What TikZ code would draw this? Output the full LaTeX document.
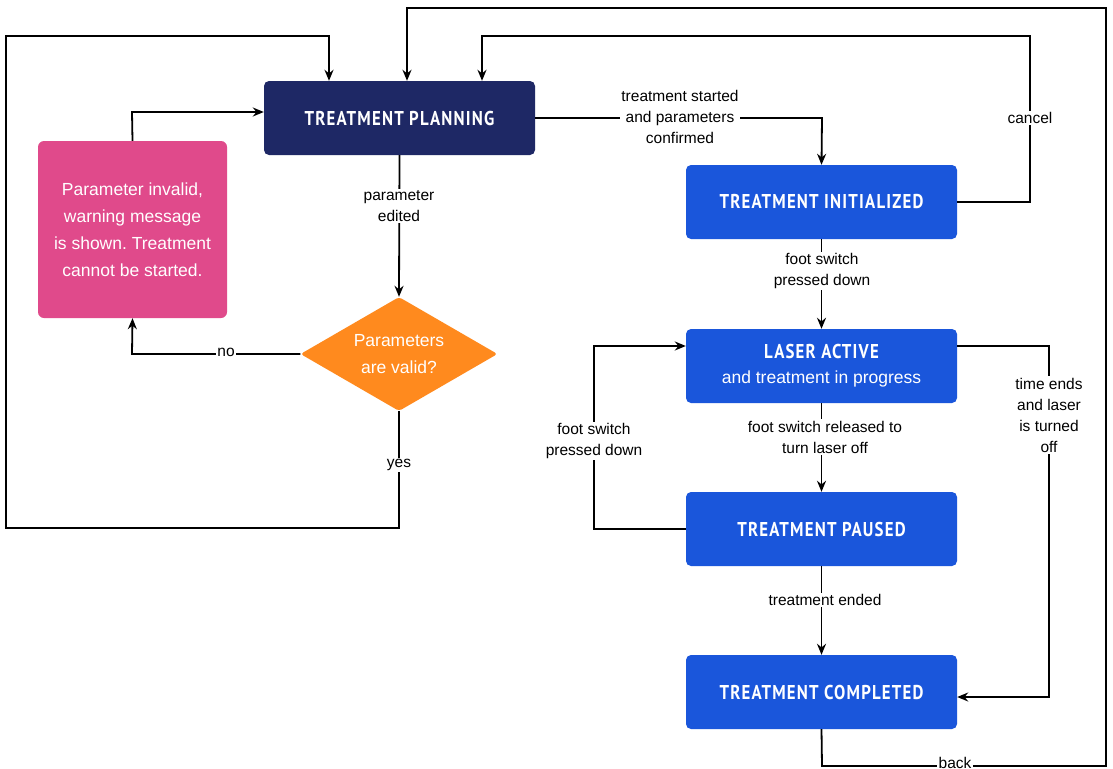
\documentclass[tikz,border=0pt]{standalone}
\usepackage{fontspec}
\setmainfont{Liberation Sans}
\newfontfamily\titlefont{PT Sans}[FakeStretch=0.84,LetterSpace=6]
\usetikzlibrary{shapes.geometric,arrows.meta}
\definecolor{navy}{HTML}{1E2865}
\definecolor{pinkbox}{HTML}{E04A8B}
\definecolor{orangebox}{HTML}{FF8A1E}
\definecolor{bluebox}{HTML}{1A56DB}
\frenchspacing
\tikzset{
  statebox/.style={draw=none, fill=bluebox, rounded corners=5pt, minimum width=271pt, minimum height=74pt, text=white, align=center, inner sep=0pt, font=\titlefont\bfseries\fontsize{20}{22}\selectfont},
  edgelabel/.style={fill=white, inner sep=1.5pt, align=center, font=\fontsize{15.5}{21}\selectfont},
  conn/.style={line width=1.8pt, -{Stealth[length=11pt,width=9pt]}},
}
\begin{document}
\begin{tikzpicture}[x=1pt,y=-1pt]
\useasboundingbox[fill=white] (0,0) rectangle (1113,768);
% nodes
\node[statebox, fill=navy] (plan) at (399.5,118) {TREATMENT PLANNING};
\node[statebox] (init) at (821.5,202) {TREATMENT INITIALIZED};
\node[statebox] (laser) at (821.5,366) {LASER ACTIVE\\[3pt]{\normalfont\mdseries\fontsize{17.5}{22}\selectfont and treatment in progress}};
\node[statebox] (paused) at (821.5,529) {TREATMENT PAUSED};
\node[statebox] (done) at (821.5,692) {TREATMENT COMPLETED};
\node[draw=none, fill=pinkbox, rounded corners=6pt, minimum width=189pt, minimum height=177pt, text=white, align=center, inner sep=0pt, font=\fontsize{17.5}{27}\selectfont] (warn) at (132.5,229.5) {Parameter invalid,\\warning message\\is shown. Treatment\\cannot be started.};
\node[diamond, fill=orangebox, rounded corners=3pt, minimum width=197pt, minimum height=114pt, aspect=1.73, inner sep=0pt, text=white, align=center, font=\fontsize{17.5}{27}\selectfont] (valid) at (399,354) {Parameters\\are valid?};
% coordinates
\coordinate (cA) at (822,118);
\coordinate (cB1) at (1030,202);
\coordinate (cB2) at (1030,36);
\coordinate (cB3) at (482,36);
\coordinate (cC1) at (822,766);
\coordinate (cC2) at (1106,766);
\coordinate (cC3) at (1106,8);
\coordinate (cC4) at (407,8);
\coordinate (cD1) at (399,528);
\coordinate (cD2) at (6,528);
\coordinate (cD3) at (6,36);
\coordinate (cD4) at (329,36);
\coordinate (cE1) at (132,354);
\coordinate (cF1) at (132,112);
\coordinate (cG1) at (594,529);
\coordinate (cG2) at (594,346);
\coordinate (cH1) at (1049,346);
\coordinate (cH2) at (1049,697);
% connectors
\draw[conn] (plan.east) -- (cA) -- (init.north);
\node[edgelabel] at (680,117) {treatment started\\and parameters\\confirmed};
\draw[conn] (init.east) -- (cB1) -- (cB2) -- (cB3) -- (plan.north -| cB3);
\node[edgelabel] at (1030,118) {cancel};
\draw[conn] (done.south) -- (cC1) -- (cC2) -- (cC3) -- (cC4) -- (plan.north -| cC4);
\node[edgelabel, anchor=north] at (955,756) {back};
\draw[conn] (valid.south) -- (cD1) -- (cD2) -- (cD3) -- (cD4) -- (plan.north -| cD4);
\node[edgelabel] at (399,465) {yes};
\draw[conn] (plan.south) -- (valid.north);
\node[edgelabel] at (399,206) {parameter\\edited};
\draw[conn] (valid.west) -- (cE1) -- (warn.south);
\node[edgelabel] at (226,352) {no};
\draw[conn] (warn.north) -- (cF1) -- (plan.west |- cF1);
\draw[conn] (init.south) -- (laser.north);
\node[edgelabel] at (822,271) {foot switch\\pressed down};
\draw[conn] (laser.south) -- (paused.north);
\node[edgelabel] at (825,437) {foot switch released to\\turn laser off};
\draw[conn] (paused.west) -- (cG1) -- (cG2) -- (laser.west |- cG2);
\node[edgelabel] at (594,441) {foot switch\\pressed down};
\draw[conn] (laser.east |- cH1) -- (cH1) -- (cH2) -- (done.east |- cH2);
\node[edgelabel] at (1049,415) {time ends\\and laser\\is turned\\off};
\draw[conn] (paused.south) -- (done.north);
\node[edgelabel] at (825,600) {treatment ended};
\end{tikzpicture}
\end{document}
